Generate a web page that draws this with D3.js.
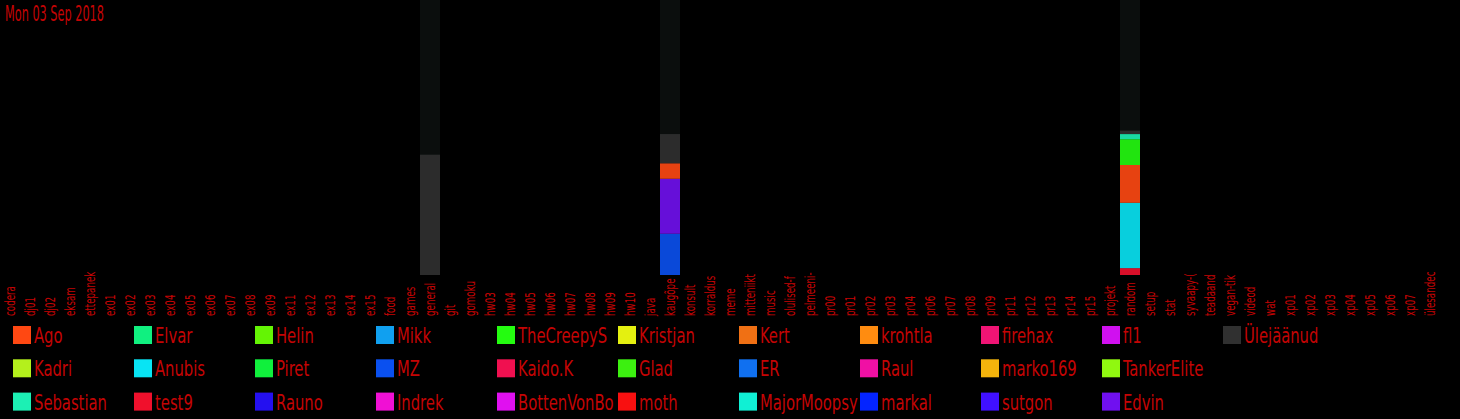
<!DOCTYPE html>
<html><head><meta charset="utf-8">
<script src="https://cdn.jsdelivr.net/npm/d3@7"></script>
<style>
html,body{margin:0;padding:0;background:#000;overflow:hidden;}
svg{display:block;}
</style></head>
<body>
<svg id="chart" width="1460" height="419"></svg>
<script>
const titleText = "Mon 03 Sep 2018";
const categories = ["codera","dj01","dj02","eksam","ettepanek","ex01","ex02","ex03","ex04","ex05","ex06","ex07","ex08","ex09","ex11","ex12","ex13","ex14","ex15","food","games","general","git","gomoku","hw03","hw04","hw05","hw06","hw07","hw08","hw09","hw10","java","kaugõpe","konsult","korraldus","meme","mitteniiktehniline","music","olulised-faktid","pelmeeni-klubi","pr00","pr01","pr02","pr03","pr04","pr06","pr07","pr08","pr09","pr11","pr12","pr13","pr14","pr15","projekt","random","setup","stat","syvaapy-(","teadaanded","vegan-tiksid","videod","wat","xp01","xp02","xp03","xp04","xp05","xp06","xp07","ülesandeclub"];
const seriesNames = ["Ago","Kadri","Sebastian","Elvar","Anubis","test9","Helin","Piret","Rauno","Mikk","MZ","Indrek","TheCreepyShadow","Kaido.K","BottenVonBottenstein","Kristjan","Glad","moth","Kert","ER","MajorMoopsy","krohtla","Raul","markal","firehax","marko169","sutgon","fl1","TankerElite","Edvin","Ülejäänud"];
const seriesColors = ["#ff4812","#b4f01c","#1cf0b4","#10f080","#08e4f4","#f0102c","#64f404","#10f03c","#2410f0","#10a0f0","#0a50f0","#f010d4","#24fc10","#f01050","#e010f0","#e4f010","#3cf010","#f81010","#f07014","#1070f0","#10f0d4","#ff8c10","#f010a4","#0424ff","#f01474","#f4b40c","#4010ff","#d010f0","#90f810","#7010f0","#303030"];
const stackCategories = ["general","kaugõpe","random"];
const stackSeries = [["Ülejäänud"],["MZ","Edvin","Ago","Ülejäänud"],["test9","Anubis","Ago","TheCreepyShadow","Sebastian","Ülejäänud"]];
const stackValues = [[35],[12,16,4.5,8.5],[2,19,11,7.5,1.5,1]];
const yMax = 80;

const svg = d3.select("#chart");
const textColor = "#c40404";
const fontFam = "'DejaVu Sans Condensed','DejaVu Sans',sans-serif";

function measure(txt, size) {
  const p = svg.append("text").attr("font-family", fontFam).attr("font-size", size).text(txt);
  const w = p.node().getComputedTextLength();
  p.remove();
  return w;
}
const sxTitle = 99 / measure(titleText, 21);
const sxLeg = 73 / measure("Sebastian", 22);
const sxLbl = 30 / measure("codera", 14);

function truncate(sel, maxW, sx) {
  sel.each(function() {
    const t = d3.select(this);
    let s = t.text();
    while (s.length > 1 && this.getComputedTextLength() * sx > maxW) {
      s = s.slice(0, -1);
      t.text(s);
    }
  });
}

svg.append("rect").attr("width",1460).attr("height",419).attr("fill","#000");

const x = d3.scaleBand().domain(categories).range([0, 1440]).padding(0);
const y = d3.scaleLinear().domain([0, yMax]).range([275, 0]);
const color = d3.scaleOrdinal().domain(seriesNames).range(seriesColors);

svg.append("g").selectAll("rect").data(stackCategories).join("rect")
  .attr("x", d => x(d)).attr("width", x.bandwidth())
  .attr("y", y(yMax)).attr("height", y(0) - y(yMax))
  .attr("fill", "#0b0e0d");

const segs = [];
stackCategories.forEach((c, i) => {
  let acc = 0;
  stackSeries[i].forEach((s, j) => {
    const v = stackValues[i][j];
    segs.push({cat: c, series: s, y0: acc, y1: acc + v});
    acc += v;
  });
});
svg.append("g").selectAll("rect").data(segs).join("rect")
  .attr("x", d => x(d.cat)).attr("width", x.bandwidth())
  .attr("y", d => y(d.y1)).attr("height", d => y(d.y0) - y(d.y1))
  .attr("fill", d => color(d.series)).attr("fill-opacity", 0.9);

svg.append("text").attr("transform", `translate(5,20.5) scale(${sxTitle},1)`)
  .attr("font-family", fontFam).attr("font-size", 21).attr("fill", textColor)
  .text(titleText);

const lg = svg.append("g").selectAll("g").data(categories).join("g")
  .attr("transform", d => `translate(${x(d) + x.bandwidth()/2 + 5},316) rotate(-90)`);
const lt = lg.append("text").attr("transform", `scale(${sxLbl},1)`)
  .attr("font-family", fontFam).attr("font-size", 14).attr("fill", textColor)
  .text(d => d);
truncate(lt, 45, sxLbl);

const rows = 3;
const colStep = 121, rowStep = 33.3;
const items = svg.append("g").selectAll("g").data(seriesNames).join("g")
  .attr("transform", (d,i) => `translate(${12 + Math.floor(i/rows)*colStep},${326 + (i%rows)*rowStep})`);
items.append("rect").attr("x",1).attr("y",0).attr("width",18).attr("height",18)
  .attr("fill", d => color(d));
const it = items.append("text").attr("transform", `translate(22,17) scale(${sxLeg},1)`)
  .attr("font-family", fontFam).attr("font-size", 22).attr("fill", textColor)
  .text(d => d);
truncate(it, 98, sxLeg);
</script>
</body></html>
